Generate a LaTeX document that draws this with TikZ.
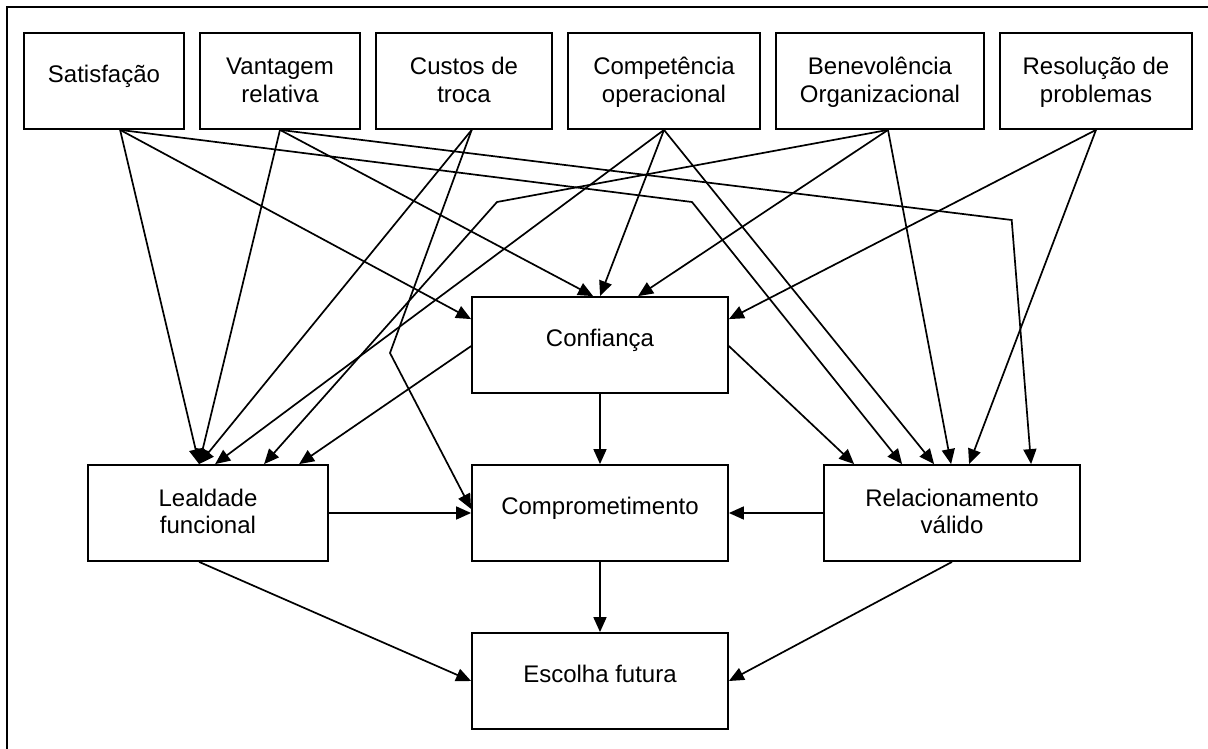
\documentclass[tikz,border=0pt]{standalone}
\usepackage{fontspec}
\setmainfont{Liberation Sans}
\usetikzlibrary{arrows.meta,calc}

\begin{document}
\begin{tikzpicture}[x=1pt,y=-1pt,
  box/.style={draw, line width=1.8pt, rectangle, inner sep=0pt},
  lbl/.style={anchor=base, inner sep=0pt, font=\fontsize{24}{28}\selectfont},
  arr/.style={line width=1.7pt, -{Triangle[length=15pt,width=13pt]}},
  frameline/.style={line width=2pt}]

\useasboundingbox (0,0) rectangle (1208,749);

% outer frame (runs off the right and bottom edges)
\draw[frameline] (6.5,749) -- (6.5,7.5) -- (1208,7.5);

% top row of antecedents
\node[box, minimum width=160pt, minimum height=96pt] (sat)  at (104,81)  {};
\node[box, minimum width=160pt, minimum height=96pt] (van)  at (280,81)  {};
\node[box, minimum width=176pt, minimum height=96pt] (cus)  at (464,81)  {};
\node[box, minimum width=192pt, minimum height=96pt] (com)  at (664,81)  {};
\node[box, minimum width=208pt, minimum height=96pt] (ben)  at (880,81)  {};
\node[box, minimum width=192pt, minimum height=96pt] (res)  at (1096,81) {};

% mediators and outcome
\node[box, minimum width=256pt, minimum height=96pt] (conf) at (600,345) {};
\node[box, minimum width=240pt, minimum height=96pt] (lea)  at (208,513) {};
\node[box, minimum width=256pt, minimum height=96pt] (comp) at (600,513) {};
\node[box, minimum width=256pt, minimum height=96pt] (rel)  at (952,513) {};
\node[box, minimum width=256pt, minimum height=96pt] (esc)  at (600,681) {};

% labels
\node[lbl] (sat-t)  at (104,83)    {Satisfação};
\node[lbl] (van-t1) at (280,75)    {Vantagem};
\node[lbl] (van-t2) at (280,102.5) {relativa};
\node[lbl] (cus-t1) at (464,75)    {Custos de};
\node[lbl] (cus-t2) at (464,102.5) {troca};
\node[lbl] (com-t1) at (664,75)    {Competência};
\node[lbl] (com-t2) at (664,102.5) {operacional};
\node[lbl] (ben-t1) at (880,75)    {Benevolência};
\node[lbl] (ben-t2) at (880,102.5) {Organizacional};
\node[lbl] (res-t1) at (1096,75)   {Resolução de};
\node[lbl] (res-t2) at (1096,102.5){problemas};
\node[lbl] (conf-t) at (600,346)   {Confiança};
\node[lbl] (lea-t1) at (208,506)   {Lealdade};
\node[lbl] (lea-t2) at (208,533.5) {funcional};
\node[lbl] (comp-t) at (600,514)   {Comprometimento};
\node[lbl] (rel-t1) at (952,506)   {Relacionamento};
\node[lbl] (rel-t2) at (952,533.5) {válido};
\node[lbl] (esc-t)  at (600,682)   {Escolha futura};

% bend points of the routed connectors
\coordinate (bsat) at (692,202);
\coordinate (bvan) at (1011.7,220);
\coordinate (bcus) at (390,353);
\coordinate (bben) at (497,202);

% from Satisfação
\draw[arr] ($(sat.south west)+(97,0)$) -- ($(lea.north west)+(112,0)$);
\draw[arr] ($(sat.south west)+(97,0)$) -- ($(conf.north west)+(0,23)$);
\draw[arr] ($(sat.south west)+(97,0)$) -- (bsat) -- ($(rel.north west)+(79,0)$);
% from Vantagem relativa
\draw[arr] (van.south) -- ($(lea.north west)+(112,0)$);
\draw[arr] (van.south) -- ($(conf.north west)+(122,0)$);
\draw[arr] (van.south) -- (bvan) -- ($(rel.north west)+(208,0)$);
% from Custos de troca
\draw[arr] ($(cus.south)+(7.7,0)$) -- ($(lea.north west)+(112,0)$);
\draw[arr] ($(cus.south)+(7.7,0)$) -- (bcus) -- ($(comp.west)+(0,-4)$);
% from Competência operacional
\draw[arr] (com.south) -- ($(lea.north west)+(128,0)$);
\draw[arr] (com.south) -- ($(conf.north west)+(129,0)$);
\draw[arr] (com.south) -- ($(rel.north west)+(111,0)$);
% from Benevolência Organizacional
\draw[arr] ($(ben.south)+(8,0)$) -- (bben) -- ($(lea.north west)+(177,0)$);
\draw[arr] ($(ben.south)+(8,0)$) -- ($(conf.north west)+(167,0)$);
\draw[arr] ($(ben.south)+(8,0)$) -- ($(rel.north west)+(128,0)$);
% from Resolução de problemas
\draw[arr] (res.south) -- ($(conf.north east)+(0,23)$);
\draw[arr] (res.south) -- ($(rel.north west)+(146,0)$);
% from Confiança
\draw[arr] ($(conf.north west)+(0,50)$) -- ($(lea.north west)+(212,0)$);
\draw[arr] (conf.south) -- (comp.north);
\draw[arr] ($(conf.north east)+(0,50)$) -- ($(rel.north west)+(31,0)$);
% middle row and outcome
\draw[arr] (lea.east) -- (comp.west);
\draw[arr] (rel.west) -- (comp.east);
\draw[arr] (comp.south) -- (esc.north);
\draw[arr] ($(lea.south west)+(112,0)$) -- (esc.west);
\draw[arr] (rel.south) -- (esc.east);

\end{tikzpicture}
\end{document}
